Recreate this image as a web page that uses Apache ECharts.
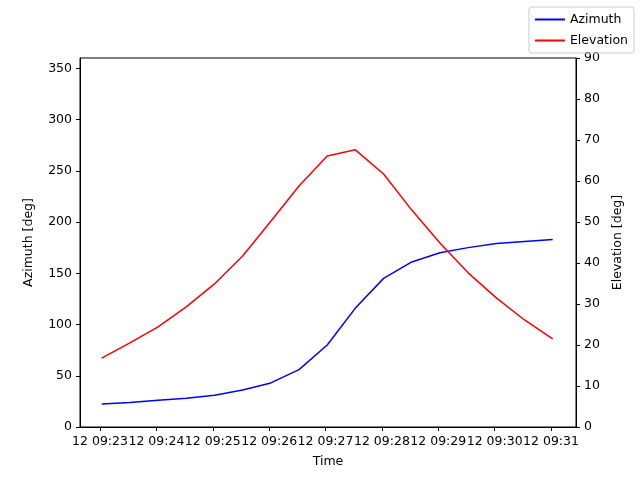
<!DOCTYPE html>
<html><head><meta charset="utf-8">
<script src="https://cdn.jsdelivr.net/npm/echarts@6/dist/echarts.min.js"></script>
<style>html,body{margin:0;padding:0;background:#fff}#c{width:640px;height:480px}</style>
</head><body><div id="c"></div>
<script>
const times = [23.03,23.53,24.03,24.53,25.03,25.53,26.03,26.53,27.03,27.53,28.03,28.53,29.03,29.53,30.03,30.53,31.03];
const azimuth = [22.4,24,26,28,31,36,43,56,80,116,145,161,170,175,179,181,183];
const elevation = [16.8,20.5,24.4,29.3,34.9,41.7,50.2,58.8,66.1,67.6,61.7,52.9,44.9,37.6,31.5,26.1,21.5];
const xTicks = [23,24,25,26,27,28,29,30,31];
const font = 'DejaVu Sans';
const ch = echarts.init(document.getElementById('c'));
const ax = {axisLine:{show:true,lineStyle:{color:'#000'}},axisTick:{show:true,length:4,lineStyle:{color:'#000'}},
  axisLabel:{color:'#000',fontFamily:font,fontSize:12.5},splitLine:{show:false},nameTextStyle:{color:'#000',fontFamily:font,fontSize:12.5}};
ch.setOption({
  animation:false,
  grid:{left:80,right:64,top:58,bottom:53,show:true,borderColor:'#000',borderWidth:1},
  legend:{right:6,top:7,orient:'vertical',itemWidth:30,itemHeight:2,itemGap:8,padding:[6,6,6,6],
    borderColor:'#ccc',borderWidth:1,borderRadius:3,textStyle:{fontFamily:font,fontSize:12.5,color:'#000'},
    data:[{name:'Azimuth',icon:'rect'},{name:'Elevation',icon:'rect'}]},
  xAxis:{type:'value',min:22.645,max:31.443,name:'Time',nameLocation:'middle',nameGap:28,...ax,
    axisLabel:{...ax.axisLabel,customValues:xTicks,formatter:v=>'12 09:'+Math.round(v)},
    axisTick:{...ax.axisTick,customValues:xTicks}},
  yAxis:[
    {type:'value',min:0,max:360,interval:50,name:'Azimuth [deg]',nameLocation:'middle',nameGap:45,...ax},
    {type:'value',min:0,max:90,interval:10,name:'Elevation [deg]',nameLocation:'middle',nameGap:32,position:'right',...ax}
  ],
  series:[
    {name:'Azimuth',type:'line',yAxisIndex:0,symbol:'none',color:'#0000ff',lineStyle:{width:1.5,color:'#0000ff'},
      data:times.map((t,i)=>[t,azimuth[i]])},
    {name:'Elevation',type:'line',yAxisIndex:1,symbol:'none',color:'#ff0000',lineStyle:{width:1.5,color:'#ff0000'},
      data:times.map((t,i)=>[t,elevation[i]])}
  ]
});
</script></body></html>
